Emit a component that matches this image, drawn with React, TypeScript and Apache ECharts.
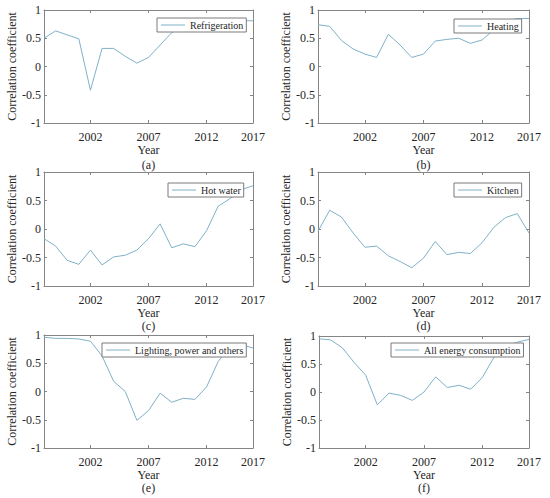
import React, { useEffect, useRef } from "react";
import * as echarts from "echarts";

const categories = ["0","1","2","3","4","5","6","7","8","9","10","11","12","13","14","15","16","17","18"];
const tickIndex = [4, 9, 14, 18];
const tickText = ["2002", "2007", "2012", "2017"];

const refrigeration = [0.5, 0.63, 0.56, 0.49, -0.42, 0.32, 0.32, 0.18, 0.06, 0.16, 0.38, 0.6, 0.72, 0.78, 0.8, 0.8, 0.8, 0.81, 0.81];
const heating = [0.74, 0.71, 0.46, 0.31, 0.22, 0.16, 0.57, 0.38, 0.16, 0.22, 0.45, 0.48, 0.5, 0.41, 0.47, 0.65, 0.8, 0.85, 0.85];
const hotWater = [-0.17, -0.3, -0.55, -0.62, -0.37, -0.63, -0.49, -0.46, -0.37, -0.17, 0.09, -0.33, -0.26, -0.31, -0.03, 0.4, 0.53, 0.69, 0.76];
const kitchen = [-0.04, 0.33, 0.21, -0.07, -0.32, -0.3, -0.47, -0.57, -0.68, -0.51, -0.22, -0.45, -0.41, -0.43, -0.24, 0.03, 0.2, 0.27, -0.07];
const lighting = [0.96, 0.94, 0.94, 0.93, 0.89, 0.63, 0.18, 0.0, -0.51, -0.34, -0.03, -0.19, -0.12, -0.14, 0.08, 0.53, 0.8, 0.83, 0.77];
const allEnergy = [0.95, 0.93, 0.79, 0.53, 0.3, -0.23, -0.02, -0.06, -0.15, 0.0, 0.27, 0.08, 0.12, 0.05, 0.26, 0.62, 0.8, 0.89, 0.94];

const seriesNames = ["Refrigeration", "Heating", "Hot water", "Kitchen", "Lighting, power and others", "All energy consumption"];
const seriesData = [refrigeration, heating, hotWater, kitchen, lighting, allEnergy];
const captions = ["(a)", "(b)", "(c)", "(d)", "(e)", "(f)"];

const FONT = "Liberation Serif";
const LINE = "#7fb1c8";
const AXIS = "#858585";
const TEXT = "#262626";

// layout
const panels = [
  { left: 44, top: 10, width: 209, height: 113, legLeft: 157, legTop: 18, capY: 165, nameGap: 19 },
  { left: 318, top: 10, width: 211, height: 113, legLeft: 454, legTop: 19, capY: 165, nameGap: 19 },
  { left: 44, top: 172, width: 209, height: 114, legLeft: 168, legTop: 183, capY: 326, nameGap: 18 },
  { left: 318, top: 172, width: 211, height: 114, legLeft: 454, legTop: 183, capY: 326, nameGap: 18 },
  { left: 44, top: 335, width: 209, height: 113, legLeft: 102, legTop: 343, capY: 488, nameGap: 18 },
  { left: 319, top: 336, width: 210, height: 112, legLeft: 391, legTop: 343, capY: 488, nameGap: 18 },
];

export default function App() {
  const ref = useRef<HTMLDivElement>(null);
  useEffect(() => {
    if (!ref.current) return;
    const chart = echarts.init(ref.current, undefined, { renderer: "svg" });
    const showTick = (i: number) => tickIndex.indexOf(i) >= 0;
    const grid: any[] = [];
    const xAxis: any[] = [];
    const yAxis: any[] = [];
    const series: any[] = [];
    const legend: any[] = [];
    const graphic: any[] = [];
    panels.forEach((p, k) => {
      grid.push({ left: p.left, top: p.top, width: p.width, height: p.height, containLabel: false });
      const axisLine = { show: true, onZero: false, lineStyle: { color: AXIS, width: 1 } };
      const tick = { show: true, inside: true, length: 3, interval: (i: number) => showTick(i), lineStyle: { color: AXIS } };
      xAxis.push({
        type: "category", gridIndex: k, data: categories, boundaryGap: false, position: "bottom",
        axisLine, axisTick: tick,
        axisLabel: {
          interval: (i: number) => showTick(i),
          formatter: (_v: string, i: number) => tickText[tickIndex.indexOf(i)] ?? "",
          color: TEXT, fontFamily: FONT, fontSize: 12, margin: 8,
        },
        name: "Year", nameLocation: "middle", nameGap: p.nameGap,
        nameTextStyle: { color: TEXT, fontFamily: FONT, fontSize: 12, lineHeight: 12 },
        splitLine: { show: false },
      });
      xAxis.push({
        type: "category", gridIndex: k, data: categories, boundaryGap: false, position: "top",
        axisLine, axisTick: tick, axisLabel: { show: false }, splitLine: { show: false },
      });
      const ytick = { show: true, inside: true, length: 3, lineStyle: { color: AXIS } };
      yAxis.push({
        type: "value", gridIndex: k, min: -1, max: 1, interval: 0.5, position: "left",
        axisLine, axisTick: ytick,
        axisLabel: { color: TEXT, fontFamily: FONT, fontSize: 12, margin: 3, formatter: (v: number) => String(v) },
        splitLine: { show: false },
        name: "Correlation coefficient", nameLocation: "middle", nameGap: 25,
        nameTextStyle: { color: TEXT, fontFamily: FONT, fontSize: 12 },
      });
      yAxis.push({
        type: "value", gridIndex: k, min: -1, max: 1, interval: 0.5, position: "right",
        axisLine, axisTick: ytick, axisLabel: { show: false }, splitLine: { show: false },
      });
      series.push({
        type: "line", name: seriesNames[k], xAxisIndex: 2 * k, yAxisIndex: 2 * k,
        data: seriesData[k], symbol: "none", showSymbol: false,
        lineStyle: { color: LINE, width: 1 }, itemStyle: { color: LINE },
      });
      legend.push({
        data: [seriesNames[k]], left: p.legLeft, top: p.legTop,
        orient: "horizontal", icon: "rect", itemWidth: 24, itemHeight: 1, itemGap: 0,
        padding: [2, 3, 2, 4], borderColor: "#7a7a7a", borderWidth: 1, backgroundColor: "#fff",
        textStyle: { color: TEXT, fontFamily: FONT, fontSize: 10 },
        selectedMode: false, z: 5,
      });
      graphic.push({
        type: "text", x: p.left + p.width / 2, y: p.capY,
        style: { text: captions[k], fill: TEXT, fontFamily: FONT, fontSize: 12, lineHeight: 12, align: "center", verticalAlign: "middle" },
      });
    });
    chart.setOption({
      animation: false,
      backgroundColor: "#fff",
      textStyle: { fontFamily: FONT },
      grid, xAxis, yAxis, series, legend, graphic,
    });
    return () => chart.dispose();
  }, []);
  return <div ref={ref} style={{ position: "fixed", left: 0, top: 0, width: 550, height: 498 }} />;
}
